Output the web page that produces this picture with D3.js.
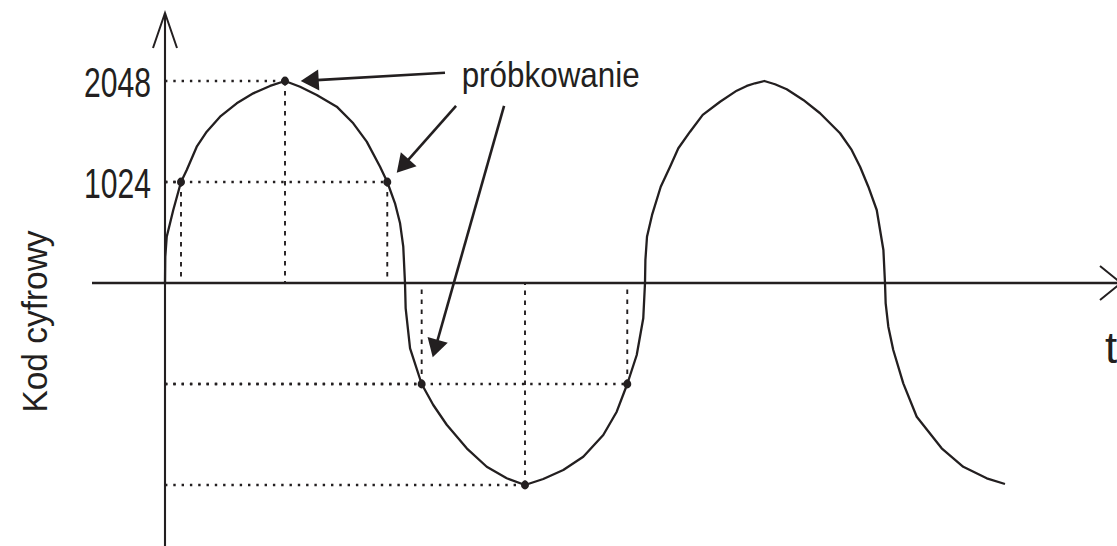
<!DOCTYPE html>
<html>
<head>
<meta charset="utf-8">
<script src="https://cdn.jsdelivr.net/npm/d3@7"></script>
<style>
  html, body { margin: 0; padding: 0; background: #fff; }
  svg { display: block; }
</style>
</head>
<body>
<svg id="chart" width="1117" height="546"></svg>
<script>
// ---------------- DATA ----------------
// time in degrees of the signal, value in digital code units
const curveT = [0, 0.2, 1.3, 6.2, 12, 16.3, 23.8, 31.3, 41.3, 53.8, 66.2, 78.8, 90,
  101.3, 113.8, 128.8, 141.2, 151.3, 161.3, 166.7, 172.5, 176.3, 178.7, 180,
  180.5, 183.8, 192.5, 201.2, 211.3, 226.3, 241.3, 256.3, 270,
  283.7, 298.7, 313.7, 328.7, 338.8, 346.7, 353.8, 358.7, 360,
  360.3, 361.5, 365.3, 371.8, 378.8, 385, 393.8, 403.3, 416.3, 428.8, 436.3, 442.5, 449.5,
  457.5, 466.3, 478.7, 491.3, 506.3, 515, 521.3, 527.5, 533.8, 536.3, 538.8, 540,
  540.5, 542.5, 546.2, 553.7, 563.8, 582.5, 598.7, 616.3, 630];
const curveV = [0, 264, 469, 740, 1024, 1146, 1382, 1534, 1686, 1822, 1923, 1998, 2048,
  1990, 1906, 1788, 1619, 1433, 1179, 1024, 808, 605, 368, 0,
  -257, -662, -1024, -1237, -1437, -1676, -1863, -1980, -2048,
  -1987, -1896, -1761, -1541, -1305, -1024, -730, -358, 0,
  233, 469, 690, 976, 1179, 1366, 1534, 1704, 1838, 1950, 1998, 2025, 2048,
  2015, 1964, 1856, 1721, 1518, 1349, 1179, 976, 740, 537, 335, 0,
  -206, -443, -679, -1017, -1356, -1676, -1863, -1980, -2038];

const sampleT = [12, 90, 166.7, 192.5, 270, 346.7];
const sampleV = [1024, 2048, 1024, -1024, -2048, -1024];

const yTickValues = [1024, 2048];
const yTickLabels = ["1024", "2048"];

const annotationText = "próbkowanie";
const annotationT = 222.5;
const annotationV = 1990;
const arrowFromT = [210, 218.3, 254.3];
const arrowFromV = [2132, 1795, 1795];
const arrowToT = [101.8, 173.8, 200.8];
const arrowToV = [2048, 1118, -753];

const yAxisTitle = "Kod cyfrowy";
const xAxisTitle = "t";

// ---------------- LAYOUT ----------------
const INK = "#231f20";
const FONT = "'Liberation Sans Narrow', 'Arial Narrow', 'Liberation Sans', Arial, sans-serif";
const originX = 165, originY = 283;
const svg = d3.select("#chart");

const x = d3.scaleLinear().domain([0, 180]).range([originX, originX + 240]);
const y = d3.scaleLinear().domain([0, 2048]).range([originY, 81]);

const xAxisStart = 92, xAxisEnd = 1121;
const yAxisTop = 13, yAxisBottom = 546;

// axes lines
svg.append("line")
  .attr("x1", xAxisStart).attr("x2", xAxisEnd)
  .attr("y1", y(0)).attr("y2", y(0))
  .attr("stroke", INK).attr("stroke-width", 2.3);
svg.append("line")
  .attr("x1", x(0)).attr("x2", x(0))
  .attr("y1", yAxisBottom).attr("y2", yAxisTop)
  .attr("stroke", INK).attr("stroke-width", 2.1);

// open arrowheads on axes
svg.append("path")
  .attr("d", `M${x(0) - 12},${yAxisTop + 35} L${x(0)},${yAxisTop} L${x(0) + 12},${yAxisTop + 35}`)
  .attr("fill", "none").attr("stroke", INK).attr("stroke-width", 2);
svg.append("path")
  .attr("d", `M${xAxisEnd - 21},${y(0) - 17} L${xAxisEnd},${y(0)} L${xAxisEnd - 21},${y(0) + 17}`)
  .attr("fill", "none").attr("stroke", INK).attr("stroke-width", 2);

// y tick labels via d3 axis
const yAxis = d3.axisLeft(y)
  .tickValues(yTickValues)
  .tickFormat((d, i) => yTickLabels[i])
  .tickSizeInner(0).tickSizeOuter(0).tickPadding(14);
const gy = svg.append("g").attr("transform", `translate(${originX},0)`).call(yAxis);
gy.select(".domain").remove();
gy.selectAll("text")
  .attr("dy", null)
  .attr("y", 15)
  .attr("fill", INK)
  .style("font-family", FONT)
  .style("font-size", "42px")
  .attr("textLength", 67)
  .attr("lengthAdjust", "spacingAndGlyphs");

// guide dotted lines
const samples = sampleT.map((t, i) => ({ t, v: sampleV[i] }));
svg.append("g").selectAll("line.h").data(samples).join("line")
  .attr("x1", x(0)).attr("x2", d => x(d.t))
  .attr("y1", d => y(d.v)).attr("y2", d => y(d.v))
  .attr("stroke", INK).attr("stroke-width", 2.3)
  .attr("stroke-dasharray", "2.4 5.9");
svg.append("g").selectAll("line.v").data(samples).join("line")
  .attr("x1", d => x(d.t)).attr("x2", d => x(d.t))
  .attr("y1", d => y(d.v)).attr("y2", y(0))
  .attr("stroke", INK).attr("stroke-width", 1.9)
  .attr("stroke-dasharray", "4.5 5.5");

// signal curve
const pts = curveT.map((t, i) => [t, curveV[i]]);
svg.append("path")
  .attr("d", d3.line().x(d => x(d[0])).y(d => y(d[1])).curve(d3.curveLinear)(pts))
  .attr("fill", "none").attr("stroke", INK).attr("stroke-width", 2.3)
  .attr("stroke-linejoin", "round");

// sample dots
svg.append("g").selectAll("ellipse").data(samples).join("ellipse")
  .attr("cx", d => x(d.t)).attr("cy", d => y(d.v)).attr("rx", 4).attr("ry", 4.4)
  .attr("fill", INK);

// annotation arrows
const headLen = 18, headHalf = 10.5;
arrowFromT.forEach((ft, i) => {
  const x1 = x(ft), y1 = y(arrowFromV[i]);
  const x2 = x(arrowToT[i]), y2 = y(arrowToV[i]);
  const dx = x2 - x1, dy = y2 - y1, L = Math.hypot(dx, dy);
  const ux = dx / L, uy = dy / L;
  const bx = x2 - ux * headLen, by = y2 - uy * headLen;
  svg.append("line")
    .attr("x1", x1).attr("y1", y1).attr("x2", bx + ux * 2).attr("y2", by + uy * 2)
    .attr("stroke", INK).attr("stroke-width", 2.6);
  svg.append("path")
    .attr("d", `M${x2},${y2} L${bx - uy * headHalf},${by + ux * headHalf} L${bx + uy * headHalf},${by - ux * headHalf} Z`)
    .attr("fill", INK);
});

// annotation text
svg.append("text")
  .attr("x", x(annotationT)).attr("y", y(annotationV))
  .attr("fill", INK)
  .style("font-family", FONT)
  .style("font-size", "35px")
  .attr("textLength", 178).attr("lengthAdjust", "spacingAndGlyphs")
  .text(annotationText);

// axis titles
svg.append("text")
  .attr("transform", "translate(47,321.5) rotate(-90)")
  .attr("text-anchor", "middle")
  .attr("fill", INK)
  .style("font-family", FONT)
  .style("font-size", "35px")
  .attr("textLength", 182).attr("lengthAdjust", "spacingAndGlyphs")
  .text(yAxisTitle);

svg.append("text")
  .attr("x", 1105).attr("y", 363)
  .attr("fill", INK)
  .style("font-family", FONT)
  .style("font-size", "44px")
  .text(xAxisTitle);
</script>
</body>
</html>
